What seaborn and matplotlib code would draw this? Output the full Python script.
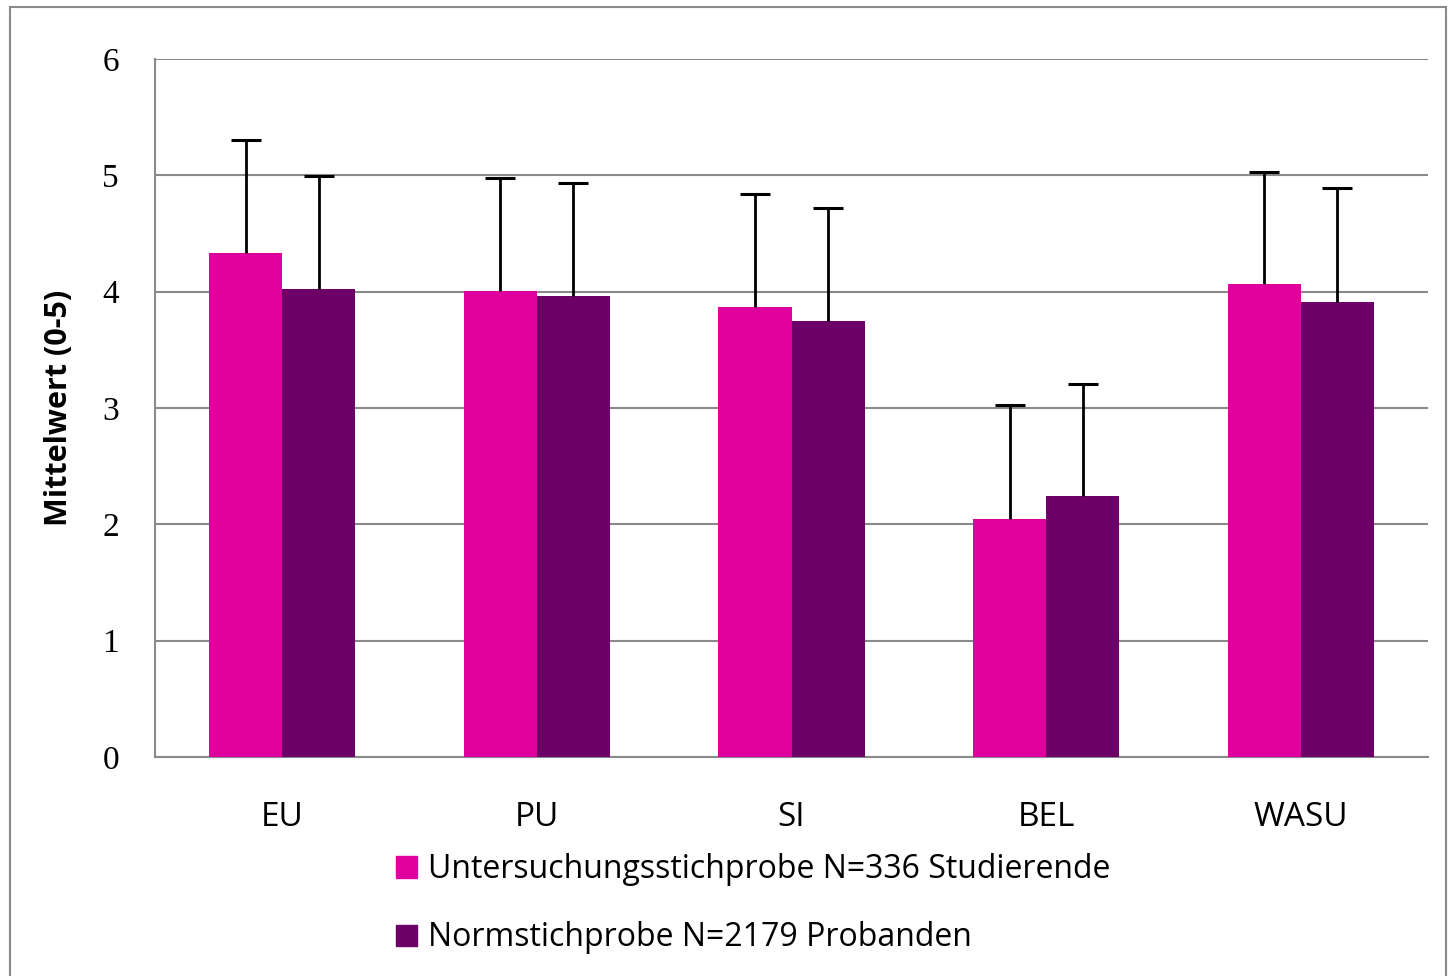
import pandas as pd
import numpy as np
import seaborn as sns
import matplotlib.pyplot as plt
from matplotlib.patches import Rectangle

# Values
scales = ["EU", "PU", "SI", "BEL", "WASU"]
groups = ["Untersuchungsstichprobe N=336 Studierende", "Normstichprobe N=2179 Probanden"]
means_study = [4.33, 4.01, 3.87, 2.05, 4.07]
means_norm = [4.02, 3.96, 3.75, 2.24, 3.91]
sd_study = [0.97, 0.97, 0.97, 0.98, 0.96]
sd_norm = [0.97, 0.97, 0.97, 0.97, 0.98]

colors = ["#E0009E", "#6C0066"]

df = pd.DataFrame({
    "scale": scales * 2,
    "group": [groups[0]] * 5 + [groups[1]] * 5,
    "mean": means_study + means_norm,
    "sd": sd_study + sd_norm,
})

sns.set_style("white")
plt.rcParams['font.family'] = ['Open Sans', 'DejaVu Sans']
plt.rcParams['text.color'] = 'black'
plt.rcParams['xtick.color'] = 'black'
plt.rcParams['ytick.color'] = 'black'
plt.rcParams['axes.labelcolor'] = 'black'

fig = plt.figure(figsize=(14.56, 9.76), dpi=100)
ax = fig.add_axes([155 / 1456, 1 - 757 / 976, 1273 / 1456, 698 / 976])

sns.barplot(data=df, x="scale", y="mean", hue="group", palette=colors,
            saturation=1, width=0.574, errorbar=None, ax=ax, legend=False,
            edgecolor="none", linewidth=0, zorder=3)

# Error bars (plus direction only), positioned from the drawn bars
bars = [p for p in ax.patches if p.get_height() > 0]
for i, g in enumerate(groups):
    sub = df[df.group == g]
    for j, (m, s) in enumerate(zip(sub["mean"], sub["sd"])):
        p = bars[i * 5 + j]
        xc = p.get_x() + p.get_width() / 2
        eb = ax.errorbar(xc, m, yerr=[[0], [s]], fmt="none", ecolor="black",
                         elinewidth=2, capsize=11, capthick=2.2, zorder=4)
        eb[1][0].set_visible(False)  # no cap at the bar top

ax.set_ylim(0, 6)
ax.set_xlim(-0.5, 4.5)
ax.set_yticks(range(7))
ax.set_yticklabels([str(v) for v in range(7)], family="Liberation Serif", fontsize=24)
ax.yaxis.grid(True, color="#8a8a8a", linewidth=1.5, zorder=0)
ax.set_axisbelow(True)

# category boundary ticks on x axis
ax.set_xticks(np.arange(-0.5, 5, 1), minor=True)
ax.tick_params(axis="x", which="minor", length=10, width=1.3, color="#8a8a8a", direction="out")
ax.tick_params(axis="x", which="major", length=0, labelsize=24, pad=32)
ax.tick_params(axis="y", length=12, width=1.3, color="#8a8a8a", direction="out", pad=14)

for side in ["top", "right"]:
    ax.spines[side].set_visible(False)
for side in ["left", "bottom"]:
    ax.spines[side].set_color("#8a8a8a")
    ax.spines[side].set_linewidth(1.5)

ax.set_xlabel("")
ax.set_ylabel("Mittelwert (0-5)", fontsize=22, fontweight="bold", labelpad=20)

handles = [Rectangle((0, 0), 1, 1, color=c) for c in colors]
fig.legend(handles, groups, loc="upper left", bbox_to_anchor=(374 / 1456, 1 - 831 / 976),
           frameon=False, fontsize=23, labelspacing=1.1, handlelength=0.65,
           handleheight=0.65, handletextpad=0.35, borderpad=0.2)

# outer frame
fig.patches.append(Rectangle((10 / 1456, -0.01), 1436 / 1456, 1 - 7 / 976 + 0.01,
                             transform=fig.transFigure, fill=False,
                             edgecolor="#8a8a8a", linewidth=1.5))

plt.savefig("out.png", dpi=100)
